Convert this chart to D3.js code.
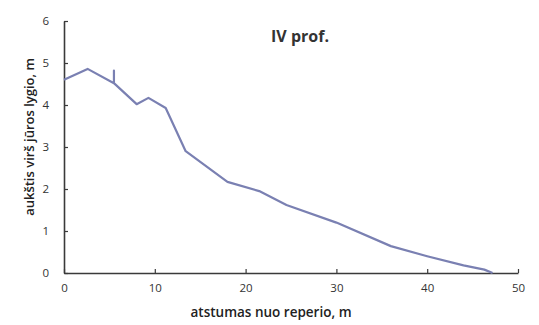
<!DOCTYPE html>
<html><head><meta charset="utf-8">
<script src="https://cdn.jsdelivr.net/npm/d3@7"></script>
<style>body{margin:0;background:#fff}</style>
</head><body>
<svg id="c" width="539" height="325"></svg>
<script>
const title = "IV prof.";
const xLabel = "atstumas nuo reperio, m";
const yLabel = "aukštis virš jūros lygio, m";
const xTicks = [0, 10, 20, 30, 40, 50];
const yTicks = [0, 1, 2, 3, 4, 5, 6];
const distance = [0, 2.6, 5.5, 5.5, 5.5, 8.0, 9.3, 11.2, 13.4, 18.0, 21.5, 24.5, 30, 36, 40, 44, 46.3, 47.2];
const height  = [4.6, 4.86, 4.52, 4.82, 4.52, 4.02, 4.17, 3.93, 2.9, 2.17, 1.95, 1.62, 1.2, 0.64, 0.4, 0.18, 0.08, 0];

const svg = d3.select("#c");
const x = d3.scaleLinear().domain([0, 50]).range([64, 518]);
const y = d3.scaleLinear().domain([0, 6]).range([273, 21]);
const axisColor = "#3a3a3a";
const font = "'Open Sans', 'DejaVu Sans', sans-serif";

const gx = svg.append("g").attr("transform", `translate(0,${y(0)})`)
  .call(d3.axisBottom(x).tickValues(xTicks).tickFormat(d3.format("d")).tickSizeInner(-4).tickSizeOuter(0).tickPadding(10));
const gy = svg.append("g").attr("transform", `translate(${x(0)},0)`)
  .call(d3.axisLeft(y).tickValues(yTicks).tickFormat(d3.format("d")).tickSizeInner(-4).tickSizeOuter(0).tickPadding(15));
[gx, gy].forEach(g => {
  g.select(".domain").attr("stroke", axisColor).attr("stroke-width", 1.6);
  g.selectAll(".tick line").attr("stroke", axisColor).attr("stroke-width", 1.2);
  g.selectAll(".tick text").attr("fill", "#333").attr("font-size", 11.5).attr("font-family", font);
});
gx.selectAll(".tick text").attr("dy", "0.8em");

svg.append("path")
  .datum(distance.map((d, i) => [d, height[i]]))
  .attr("fill", "none").attr("stroke", "#7a80b2").attr("stroke-width", 2.2)
  .attr("stroke-linejoin", "round")
  .attr("d", d3.line().x(d => x(d[0])).y(d => y(d[1])));

svg.append("text").text(title).attr("x", 300).attr("y", 42)
  .attr("text-anchor", "middle").attr("font-size", 16).attr("font-weight", "bold")
  .attr("font-family", font).attr("fill", "#333");
svg.append("text").text(xLabel).attr("x", 271).attr("y", 317)
  .attr("text-anchor", "middle").attr("font-size", 13.5).attr("font-weight", 600)
  .attr("font-family", font).attr("fill", "#222");
svg.append("text").text(yLabel).attr("transform", "translate(34,137) rotate(-90)")
  .attr("text-anchor", "middle").attr("font-size", 13).attr("font-weight", 600)
  .attr("font-family", font).attr("fill", "#222");
</script>
</body></html>
